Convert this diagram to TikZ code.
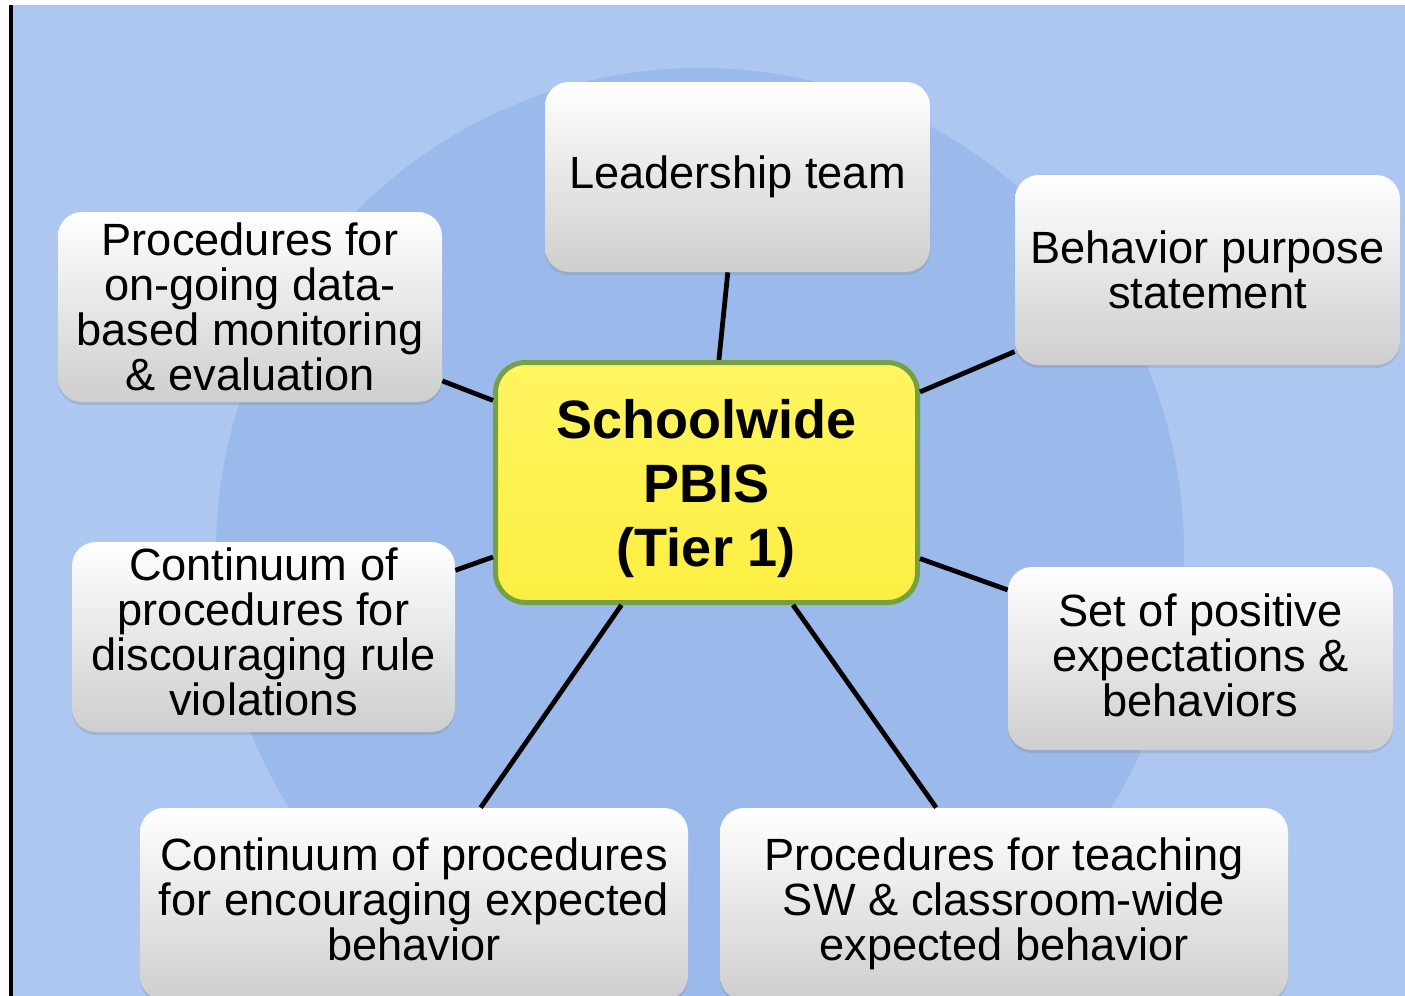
\documentclass[tikz,border=0pt]{standalone}
\usepackage{fontspec}
\setmainfont{Liberation Sans}
\usetikzlibrary{shadows}

\definecolor{outerblue}{RGB}{174,199,240}
\definecolor{discblue}{RGB}{155,185,235}
\definecolor{hubtop}{RGB}{255,245,96}
\definecolor{hubbottom}{RGB}{252,238,66}
\definecolor{hubline}{RGB}{118,160,68}
\definecolor{boxlow}{RGB}{206,206,206}

\begin{document}
\begin{tikzpicture}[x=0.5pt,y=-0.5pt,
  item/.style={rounded corners=12pt, top color=white, bottom color=boxlow,
    align=center, inner sep=0pt,
    font=\fontsize{22.6}{22.5}\selectfont,
    drop shadow={shadow xshift=0pt, shadow yshift=-1.5pt, opacity=0.25}},
  hub/.style={rounded corners=15pt, top color=hubtop, bottom color=hubbottom,
    draw=hubline, line width=2.5pt, align=center, inner sep=0pt,
    font=\fontsize{27}{32}\selectfont\bfseries},
  link/.style={line width=2.4pt, black}]

% page, backdrop and disc
\useasboundingbox (0,0) rectangle (1405,996);
\clip (0,0) rectangle (1405,996);
\fill[white] (0,0) rectangle (1405,996);
\fill[outerblue] (13,5) rectangle (1405,996);
\fill[discblue] (700,552) circle [radius=242pt];
\fill[black] (9,5) rectangle (13,996);

% central node
\node[hub, minimum width=211pt, minimum height=120pt] (hubnode) at (706.5,482.5)
  {\rule{0pt}{26pt}Schoolwide\\PBIS\\(Tier 1)};

% surrounding components
\node[item, minimum width=192.5pt, minimum height=95pt] (lead) at (737.5,177)
  {Leadership team};
\node[item, minimum width=192.5pt, minimum height=95pt] (purp) at (1207.5,270)
  {Behavior purpose\\statement};
\node[item, minimum width=192pt, minimum height=95pt] (mon) at (250,307)
  {Procedures for\\on-going data-\\based monitoring\\\& evaluation};
\node[item, minimum width=191.5pt, minimum height=95pt] (disc) at (263.5,637)
  {Continuum of\\procedures for\\discouraging rule\\violations\rule[-5pt]{0pt}{0pt}};
\node[item, minimum width=192.5pt, minimum height=91.5pt] (pos) at (1200.5,658.5)
  {Set of positive\\expectations \&\\behaviors\rule[-3pt]{0pt}{0pt}};
\node[item, minimum width=274pt, minimum height=96pt] (enc) at (414,904)
  {Continuum of procedures\\for encouraging expected\\behavior\rule[-5pt]{0pt}{0pt}};
\node[item, minimum width=284pt, minimum height=96pt] (teach) at (1004,904)
  {Procedures for teaching\\SW \& classroom-wide\\expected behavior};

% connectors
\draw[link] (hubnode) -- (lead);
\draw[link] (hubnode) -- (purp);
\draw[link] (hubnode) -- (mon);
\draw[link] (hubnode) -- (disc);
\draw[link] (hubnode) -- (pos);
\draw[link] (hubnode) -- (enc);
\draw[link] (hubnode) -- (teach);
\end{tikzpicture}
\end{document}
